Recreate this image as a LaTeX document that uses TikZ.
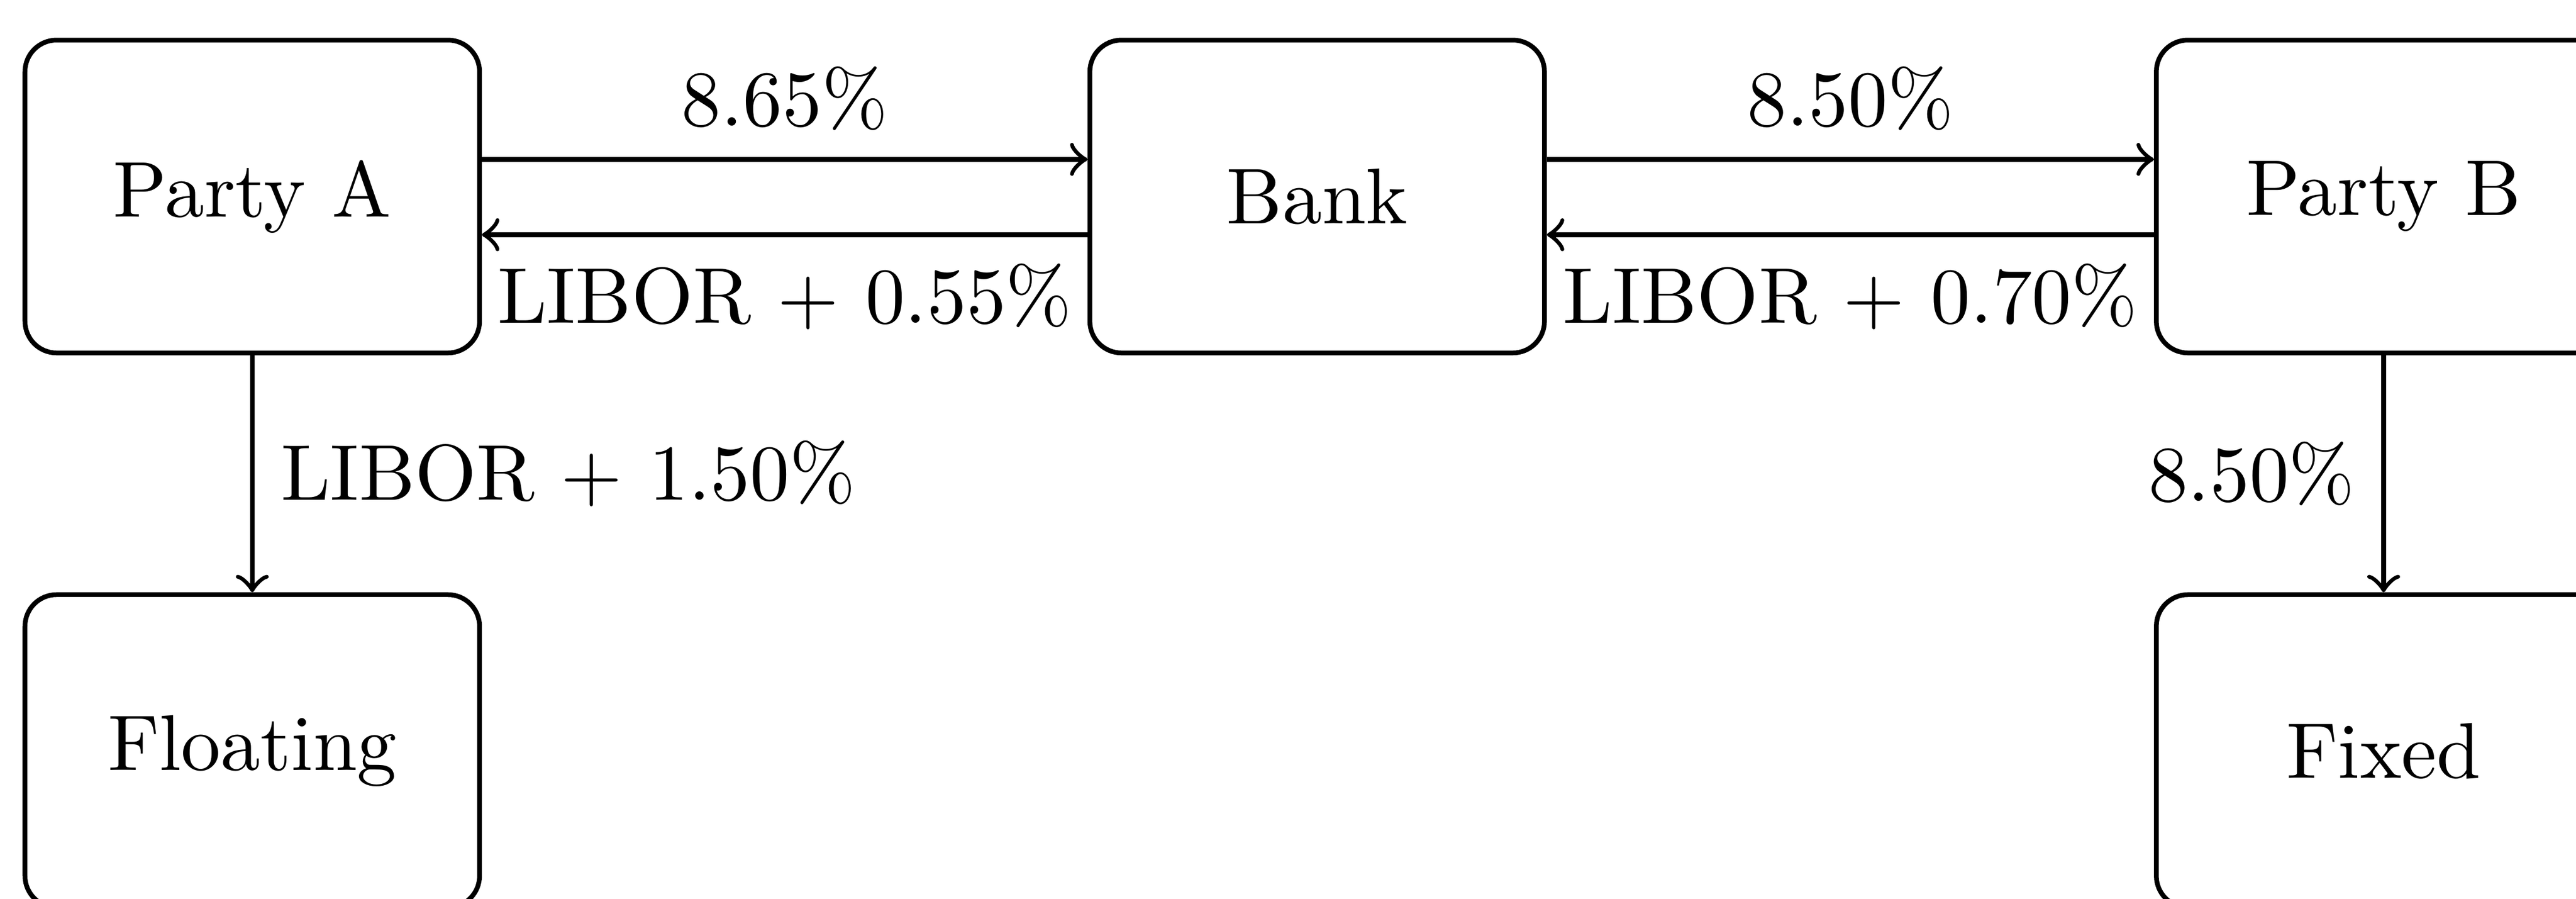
\documentclass[tikz,border=0pt]{standalone}
\usepackage{amsmath,tikz}
\usetikzlibrary{calc}

\begin{document}
\begin{tikzpicture}[semithick,party/.style={draw,rounded corners,minimum width=2.02cm,minimum height=1.39cm,inner sep=0pt}]
            \useasboundingbox (0,0) rectangle (11.447,-3.992);
            \node[party] (partyA) at (1.121,-0.873) {Party A};
            \node[party] (bank) at (5.853,-0.873) {Bank};
            \node[party] (partyB) at (10.592,-0.873) {Party B};
            \node[party] (floating) at (1.121,-3.337) {Floating};
            \node[party] (fixed) at (10.592,-3.337) {Fixed};
            \draw[->] ([yshift=0.165cm]partyA.east) -- ([yshift=0.165cm]bank.west) node[midway,above]{8.65\%};
            \draw[<-] ([yshift=-0.17cm]partyA.east) -- ([yshift=-0.17cm]bank.west) node[midway,below]{LIBOR + 0.55\%};
            \draw[->] ([yshift=0.165cm]bank.east) -- ([yshift=0.165cm]partyB.west) node[midway,above]{8.50\%};
            \draw[<-] ([yshift=-0.17cm]bank.east) -- ([yshift=-0.17cm]partyB.west) node[midway,below]{LIBOR + 0.70\%};
            \draw[->] (partyA) -- (floating) node[midway,right]{LIBOR + 1.50\%};
            \draw[->] (partyB) -- (fixed) node[midway,left]{8.50\%};
        \end{tikzpicture}
\end{document}
